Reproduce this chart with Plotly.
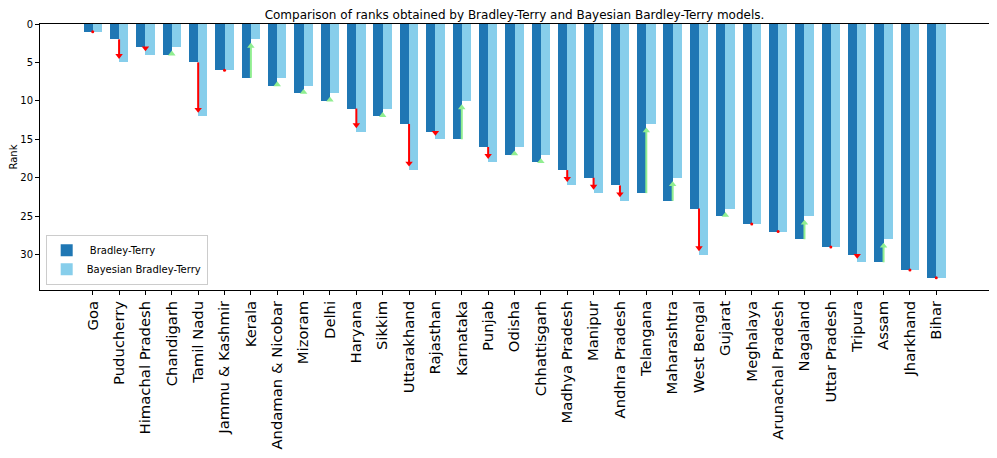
import plotly.graph_objects as go

states = ["Goa", "Puducherry", "Himachal Pradesh", "Chandigarh", "Tamil Nadu",
          "Jammu & Kashmir", "Kerala", "Andaman & Nicobar", "Mizoram", "Delhi",
          "Haryana", "Sikkim", "Uttarakhand", "Rajasthan", "Karnataka", "Punjab",
          "Odisha", "Chhattisgarh", "Madhya Pradesh", "Manipur", "Andhra Pradesh",
          "Telangana", "Maharashtra", "West Bengal", "Gujarat", "Meghalaya",
          "Arunachal Pradesh", "Nagaland", "Uttar Pradesh", "Tripura", "Assam",
          "Jharkhand", "Bihar"]
bt_rank = [1, 2, 3, 4, 5, 6, 7, 8, 9, 10, 11, 12, 13, 14, 15, 16, 17, 18, 19, 20,
           21, 22, 23, 24, 25, 26, 27, 28, 29, 30, 31, 32, 33]
bbt_rank = [1, 5, 4, 3, 12, 6, 2, 7, 8, 9, 14, 11, 19, 15, 10, 18, 16, 17, 21, 22,
            23, 13, 20, 30, 24, 26, 27, 25, 29, 31, 28, 32, 33]
y_ticks = [0, 5, 10, 15, 20, 25, 30]

DARK = "#1f77b4"
LIGHT = "#87ceeb"
UP = "#90ee90"
DOWN = "#ff0000"
FONT = "DejaVu Sans"

W, H = 989, 450
ML, MR, MT, MB = 32, 8, 16, 168
Y_RANGE = [34.6, 0]
PX_PER_UNIT = (H - MT - MB) / abs(Y_RANGE[0] - Y_RANGE[1])
HEAD = 6.5                      # marker size of arrow head
HEAD_R = HEAD / 2 / PX_PER_UNIT  # half-size in data units

fig = go.Figure()
fig.add_trace(go.Bar(x=states, y=bt_rank, name=" Bradley-Terry", marker_color=DARK,
                     marker_line_width=0, width=0.35, offset=-0.35))
fig.add_trace(go.Bar(x=states, y=bbt_rank, name="Bayesian Bradley-Terry", marker_color=LIGHT,
                     marker_line_width=0, width=0.35, offset=0.0))

# equal ranks -> small red dot
eq_x = [s for s, a, b in zip(states, bt_rank, bbt_rank) if a == b]
eq_y = [b for a, b in zip(bt_rank, bbt_rank) if a == b]
fig.add_trace(go.Scatter(x=eq_x, y=eq_y, mode="markers", showlegend=False,
                         marker=dict(color=DOWN, size=3, line_width=0), hoverinfo="skip"))

# arrows: shaft from BT rank towards Bayesian rank, head at the end
for s, a, b in zip(states, bt_rank, bbt_rank):
    if a == b:
        continue
    sgn = 1 if b > a else -1
    col = DOWN if sgn > 0 else UP
    tip = b - 0.45 * sgn
    center = tip - HEAD_R * sgn
    fig.add_trace(go.Scatter(x=[s, s], y=[a, center], mode="lines",
                             line=dict(color=col, width=2), showlegend=False,
                             hoverinfo="skip"))
    fig.add_trace(go.Scatter(x=[s], y=[center], mode="markers", showlegend=False,
                             hoverinfo="skip",
                             marker=dict(symbol="triangle-down" if sgn > 0 else "triangle-up",
                                         size=HEAD, color=col, line_width=0)))

fig.update_layout(
    width=W, height=H,
    margin=dict(l=ML, r=MR, t=MT, b=MB),
    paper_bgcolor="white", plot_bgcolor="white",
    font=dict(family=FONT, size=10, color="black"),
    barmode="overlay", bargap=0,
    title=dict(text="Comparison of ranks obtained by Bradley-Terry and Bayesian Bardley-Terry models.",
               x=0.5, xref="paper", xanchor="center", y=1 - 7 / H, yanchor="middle",
               font=dict(family=FONT, size=12, color="black")),
    legend=dict(x=0.006, y=0.02, xanchor="left", yanchor="bottom",
                bgcolor="rgba(255,255,255,0.8)", bordercolor="#cccccc", borderwidth=1,
                font=dict(family=FONT, size=10), tracegroupgap=0, itemwidth=30),
    showlegend=True,
)
fig.update_xaxes(range=[-2, 34], showline=True, linecolor="black", linewidth=1, mirror=True,
                 ticks="outside", ticklen=4, tickcolor="black", tickangle=-90,
                 tickfont=dict(family=FONT, size=14.8), showgrid=False, zeroline=False,
                 automargin=False)
fig.update_yaxes(range=Y_RANGE, showline=True, linecolor="black", linewidth=1, mirror=True,
                 ticks="outside", ticklen=4, tickcolor="black", tickvals=y_ticks,
                 tickfont=dict(family=FONT, size=10), showgrid=False, zeroline=False,
                 automargin=False,
                 title=dict(text="Rank", font=dict(family=FONT, size=10), standoff=8))

fig.write_html("out.html")
